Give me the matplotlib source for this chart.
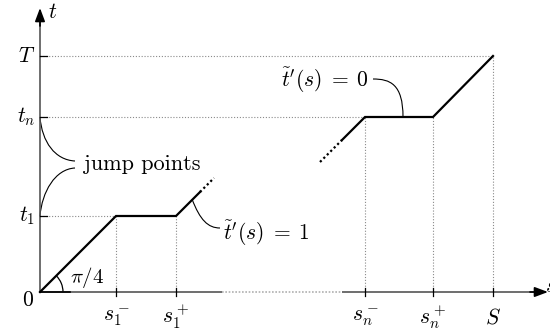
import matplotlib
matplotlib.use("Agg")
import matplotlib.pyplot as plt
from matplotlib.path import Path
from matplotlib.patches import PathPatch, Arc

plt.rcParams["mathtext.fontset"] = "cm"
plt.rcParams["font.family"] = ["cmr10", "DejaVu Serif"]

# breakpoints on the s axis and levels on the t axis
s_names = [r"$s_1^-$", r"$s_1^+$", r"$s_n^-$", r"$s_n^+$", r"$S$"]
s_vals = [76, 136, 325, 393, 453]
t_names = [r"$t_1$", r"$t_n$", r"$T$"]
t_vals = [76, 175, 236]

# reparametrised time t(s): first piece, then last piece
left_s = [0, 76, 136, 160]
left_t = [0, 76, 76, 100]
left_dots_s = [160, 174]
left_dots_t = [100, 114]
right_dots_s = [280, 302]
right_dots_t = [130, 152]
right_s = [302, 325, 393, 453]
right_t = [152, 175, 175, 236]

fig = plt.figure(figsize=(5.5, 3.34), dpi=100)
ax = fig.add_axes([0, 0, 1, 1])
ax.set_xlim(-40, 510)
ax.set_ylim(-42, 292)
ax.axis("off")

axis_c = "#555555"
guide = dict(color="#8a8a8a", lw=0.8, ls=(0, (1, 1.6)))

# guide lines
ax.plot([0, s_vals[0]], [t_vals[0]] * 2, **guide)
ax.plot([0, s_vals[2]], [t_vals[1]] * 2, **guide)
ax.plot([0, s_vals[4]], [t_vals[2]] * 2, **guide)
for s, t in zip(s_vals, [t_vals[0], t_vals[0], t_vals[1], t_vals[1], t_vals[2]]):
    ax.plot([s, s], [0, t], **guide)

# axes
ax.plot([0, 182], [0, 0], color=axis_c, lw=1.2, solid_capstyle="butt")
ax.plot([182, 302], [0, 0], color="#b0b0b0", lw=1.2, ls=(0, (1, 1)))
ax.plot([302, 500], [0, 0], color=axis_c, lw=1.2, solid_capstyle="butt")
ax.annotate("", xy=(508, 0), xytext=(490, 0),
            arrowprops=dict(arrowstyle="-|>,head_length=0.8,head_width=0.3",
                            color="black", lw=1.2, shrinkA=0, shrinkB=0))
ax.plot([0, 0], [0, 270], color=axis_c, lw=1.2)
ax.annotate("", xy=(0, 284), xytext=(0, 266),
            arrowprops=dict(arrowstyle="-|>,head_length=0.8,head_width=0.3",
                            color="black", lw=1.2, shrinkA=0, shrinkB=0))
ax.plot([0, 30], [0, 0], color="black", lw=1.2)

# ticks
for s in s_vals:
    ax.plot([s, s], [-4, 4], color="black", lw=0.9)
for t in t_vals:
    ax.plot([0, 7], [t, t], color="black", lw=0.9)

# t(s)
ax.plot(left_s, left_t, color="black", lw=1.6, solid_joinstyle="miter")
ax.plot(left_dots_s, left_dots_t, color="black", lw=1.6, ls=(0, (1, 1.2)))
ax.plot(right_dots_s, right_dots_t, color="black", lw=1.6, ls=(0, (1, 1.2)))
ax.plot(right_s, right_t, color="black", lw=1.6, solid_joinstyle="miter")

# angle
ax.add_patch(Arc((0, 0), 46, 46, theta1=0, theta2=45, color="black", lw=0.9))
ax.text(30, 14, r"$\pi/4$", fontsize=15, va="center", ha="left")

# labels
fs = 15.5
for name, s in zip(s_names, s_vals):
    ax.text(s, -25, name, fontsize=fs, ha="center", va="center")
for name, t in zip(t_names, t_vals):
    ax.text(-5, t, name, fontsize=fs, ha="right", va="center")
ax.text(-12, -8, "$0$", fontsize=fs, ha="center", va="center")
ax.text(8, 280, "$t$", fontsize=fs, ha="left", va="center")
ax.text(505, 6, "$s$", fontsize=fs, ha="left", va="center")


def curve(p0, p1, p2, p3):
    path = Path([p0, p1, p2, p3], [Path.MOVETO, Path.CURVE4, Path.CURVE4, Path.CURVE4])
    ax.add_patch(PathPatch(path, fill=False, color="black", lw=0.8))


# jump points
curve((0, t_vals[1]), (2, 150), (15, 132), (35, 131))
curve((35, 124), (15, 123), (2, 100), (0, t_vals[0]))
ax.text(44, 128, "jump points", fontsize=16, ha="left", va="center")

# slope annotations
curve((152, 93), (160, 72), (168, 64), (180, 64))
ax.text(183, 59, r"$\tilde{t}'(s)\;=\;1$", fontsize=fs, ha="left", va="center")
curve((333, 213), (350, 213), (363, 208), (363, 175))
ax.text(241, 212, r"$\tilde{t}'(s)\;=\;0$", fontsize=fs, ha="left", va="center")

fig.savefig("out.png", dpi=100)
